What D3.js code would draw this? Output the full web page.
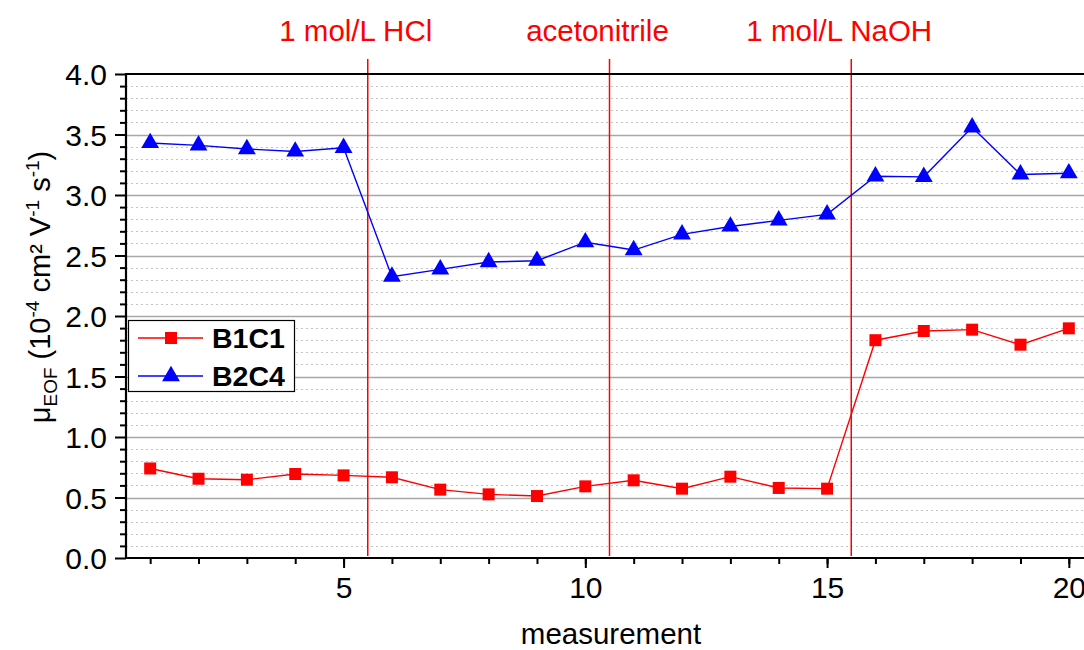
<!DOCTYPE html>
<html>
<head>
<meta charset="utf-8">
<script src="https://cdn.jsdelivr.net/npm/d3@7"></script>
<style>
  html, body { margin: 0; padding: 0; background: #fff; }
  svg { display: block; font-family: "Liberation Sans", Arial, sans-serif; }
</style>
</head>
<body>
<svg id="chart" width="1084" height="650"></svg>
<script>
// Electroosmotic mobility per measurement for two capillaries
const measurement = [1, 2, 3, 4, 5, 6, 7, 8, 9, 10, 11, 12, 13, 14, 15, 16, 17, 18, 19, 20];
const b1c1 = [0.74, 0.655, 0.647, 0.694, 0.683, 0.667, 0.565, 0.526, 0.512, 0.592,
              0.642, 0.573, 0.672, 0.579, 0.573, 1.80, 1.876, 1.887, 1.763, 1.898];
const b2c4 = [3.43, 3.41, 3.38, 3.36, 3.39, 2.325, 2.385, 2.446, 2.457, 2.61,
              2.545, 2.675, 2.74, 2.79, 2.84, 3.155, 3.15, 3.56, 3.17, 3.18];
const seriesNames = ["B1C1", "B2C4"];

// Rinsing steps between measurement blocks
const treatmentPos = [5.5, 10.5, 15.5];
const treatmentLabels = ["1 mol/L HCl", "acetonitrile", "1 mol/L NaOH"];

const yMajorTicks = [0, 0.5, 1, 1.5, 2, 2.5, 3, 3.5, 4];
const xMajorTicks = [5, 10, 15, 20];

const svg = d3.select("#chart");
const plotLeft = 126, plotRight = 1093, plotTop = 74, plotBottom = 558;

const x = d3.scaleLinear().domain([0.5, 20.5]).range([plotLeft, plotRight]);
const y = d3.scaleLinear().domain([0, 4]).range([plotBottom, plotTop]);

const yMinor = d3.range(0, 41).map(i => i / 10).filter(v => Math.abs(v * 2 - Math.round(v * 2)) > 1e-6);

// grid
const grid = svg.append("g");
grid.selectAll("line.minor").data(yMinor).join("line")
  .attr("x1", plotLeft).attr("x2", plotRight)
  .attr("y1", d => Math.round(y(d)) + 0.5).attr("y2", d => Math.round(y(d)) + 0.5)
  .attr("stroke", "#c4c4c4").attr("stroke-width", 1).attr("stroke-dasharray", "2,3");
grid.selectAll("line.major").data(yMajorTicks.slice(1, -1)).join("line")
  .attr("x1", plotLeft).attr("x2", plotRight)
  .attr("y1", d => Math.round(y(d)) + 0.5).attr("y2", d => Math.round(y(d)) + 0.5)
  .attr("stroke", "#a8a8a8").attr("stroke-width", 1.3);

// treatment markers
const treat = svg.append("g");
treat.selectAll("line").data(treatmentPos).join("line")
  .attr("x1", d => x(d)).attr("x2", d => x(d))
  .attr("y1", 59).attr("y2", plotBottom - 2)
  .attr("stroke", "#ff0000").attr("stroke-width", 1.5);
treat.selectAll("text").data(treatmentLabels).join("text")
  .attr("x", (d, i) => x(treatmentPos[i]) - 12)
  .attr("y", 41)
  .attr("text-anchor", "middle")
  .attr("fill", "#ff0000")
  .attr("font-size", 29.5)
  .text(d => d);

// series
const line = d3.line().x((d, i) => x(measurement[i])).y(d => y(d));
function drawSeries(values, color, symbol, size) {
  const g = svg.append("g");
  g.append("path").datum(values).attr("d", line)
    .attr("fill", "none").attr("stroke", color).attr("stroke-width", 1.4);
  g.selectAll("path.pt").data(values).join("path")
    .attr("class", "pt")
    .attr("transform", (d, i) => `translate(${x(measurement[i])},${y(d)})`)
    .attr("d", d3.symbol().type(symbol).size(size))
    .attr("fill", color);
}
drawSeries(b1c1, "#ff0000", d3.symbolSquare, 144);
drawSeries(b2c4, "#0000ff", d3.symbolTriangle, 138);

// axes
const axisStyle = g => {
  g.selectAll(".domain").remove();
  g.selectAll(".tick line").attr("stroke", "#000").attr("stroke-width", 2);
  g.selectAll(".tick text").attr("font-size", 30).attr("fill", "#000")
    .attr("font-family", "\"Liberation Sans\", Arial, sans-serif");
};

svg.append("g").attr("transform", `translate(${plotLeft},0)`)
  .call(d3.axisLeft(y).tickValues(yMinor).tickSize(6).tickFormat(""))
  .call(axisStyle);
svg.append("g").attr("transform", `translate(${plotLeft},0)`)
  .call(d3.axisLeft(y).tickValues(yMajorTicks).tickSize(11).tickPadding(8).tickFormat(d3.format(".1f")))
  .call(axisStyle)
  .call(g => g.selectAll(".tick text").attr("dy", "0.36em"));

svg.append("g").attr("transform", `translate(0,${plotBottom})`)
  .call(d3.axisBottom(x).tickValues(measurement).tickSize(6).tickFormat(""))
  .call(axisStyle);
svg.append("g").attr("transform", `translate(0,${plotBottom})`)
  .call(d3.axisBottom(x).tickValues(xMajorTicks).tickSize(10).tickPadding(9).tickFormat(d3.format("d")))
  .call(axisStyle);

// frame
svg.append("line").attr("x1", plotLeft).attr("x2", plotLeft).attr("y1", plotTop - 1).attr("y2", plotBottom + 1)
  .attr("stroke", "#000").attr("stroke-width", 2.2);
svg.append("line").attr("x1", plotLeft - 1).attr("x2", plotRight).attr("y1", plotBottom).attr("y2", plotBottom)
  .attr("stroke", "#000").attr("stroke-width", 2.2);
svg.append("line").attr("x1", plotLeft - 1).attr("x2", plotRight).attr("y1", plotTop).attr("y2", plotTop)
  .attr("stroke", "#000").attr("stroke-width", 2.2);
svg.append("line").attr("x1", plotRight).attr("x2", plotRight).attr("y1", plotTop).attr("y2", plotBottom)
  .attr("stroke", "#000").attr("stroke-width", 2.2);

// axis titles
svg.append("text")
  .attr("x", 611).attr("y", 644)
  .attr("text-anchor", "middle")
  .attr("font-size", 29.5)
  .text("measurement");

const yTitle = svg.append("text")
  .attr("transform", "translate(50,287) rotate(-90)")
  .attr("text-anchor", "middle")
  .attr("font-size", 29);
yTitle.append("tspan").text("μ");
yTitle.append("tspan").attr("font-size", 19).attr("dy", 7).text("EOF");
yTitle.append("tspan").attr("dy", -7).text(" (10");
yTitle.append("tspan").attr("font-size", 19).attr("dy", -11).text("-4");
yTitle.append("tspan").attr("dy", 11).text(" cm² V");
yTitle.append("tspan").attr("font-size", 19).attr("dy", -11).text("-1");
yTitle.append("tspan").attr("dy", 11).text(" s");
yTitle.append("tspan").attr("font-size", 19).attr("dy", -11).text("-1");
yTitle.append("tspan").attr("dy", 11).text(")");

// legend
const legend = svg.append("g");
legend.append("rect")
  .attr("x", 128.5).attr("y", 320.5).attr("width", 166).attr("height", 71)
  .attr("fill", "#fff").attr("stroke", "#000").attr("stroke-width", 1.2);
const legendItems = [
  { name: seriesNames[0], color: "#ff0000", symbol: d3.symbolSquare, size: 144 },
  { name: seriesNames[1], color: "#0000ff", symbol: d3.symbolTriangle, size: 138 }
];
legendItems.forEach((it, i) => {
  const cy = 338 + i * 38;
  legend.append("line").attr("x1", 138).attr("x2", 203).attr("y1", cy).attr("y2", cy)
    .attr("stroke", it.color).attr("stroke-width", 1.4);
  legend.append("path").attr("transform", `translate(171,${cy})`)
    .attr("d", d3.symbol().type(it.symbol).size(it.size)).attr("fill", it.color);
  legend.append("text").attr("x", 212).attr("y", cy + 10)
    .attr("font-size", 28.5).attr("font-weight", "bold").text(it.name);
});
</script>
</body>
</html>
